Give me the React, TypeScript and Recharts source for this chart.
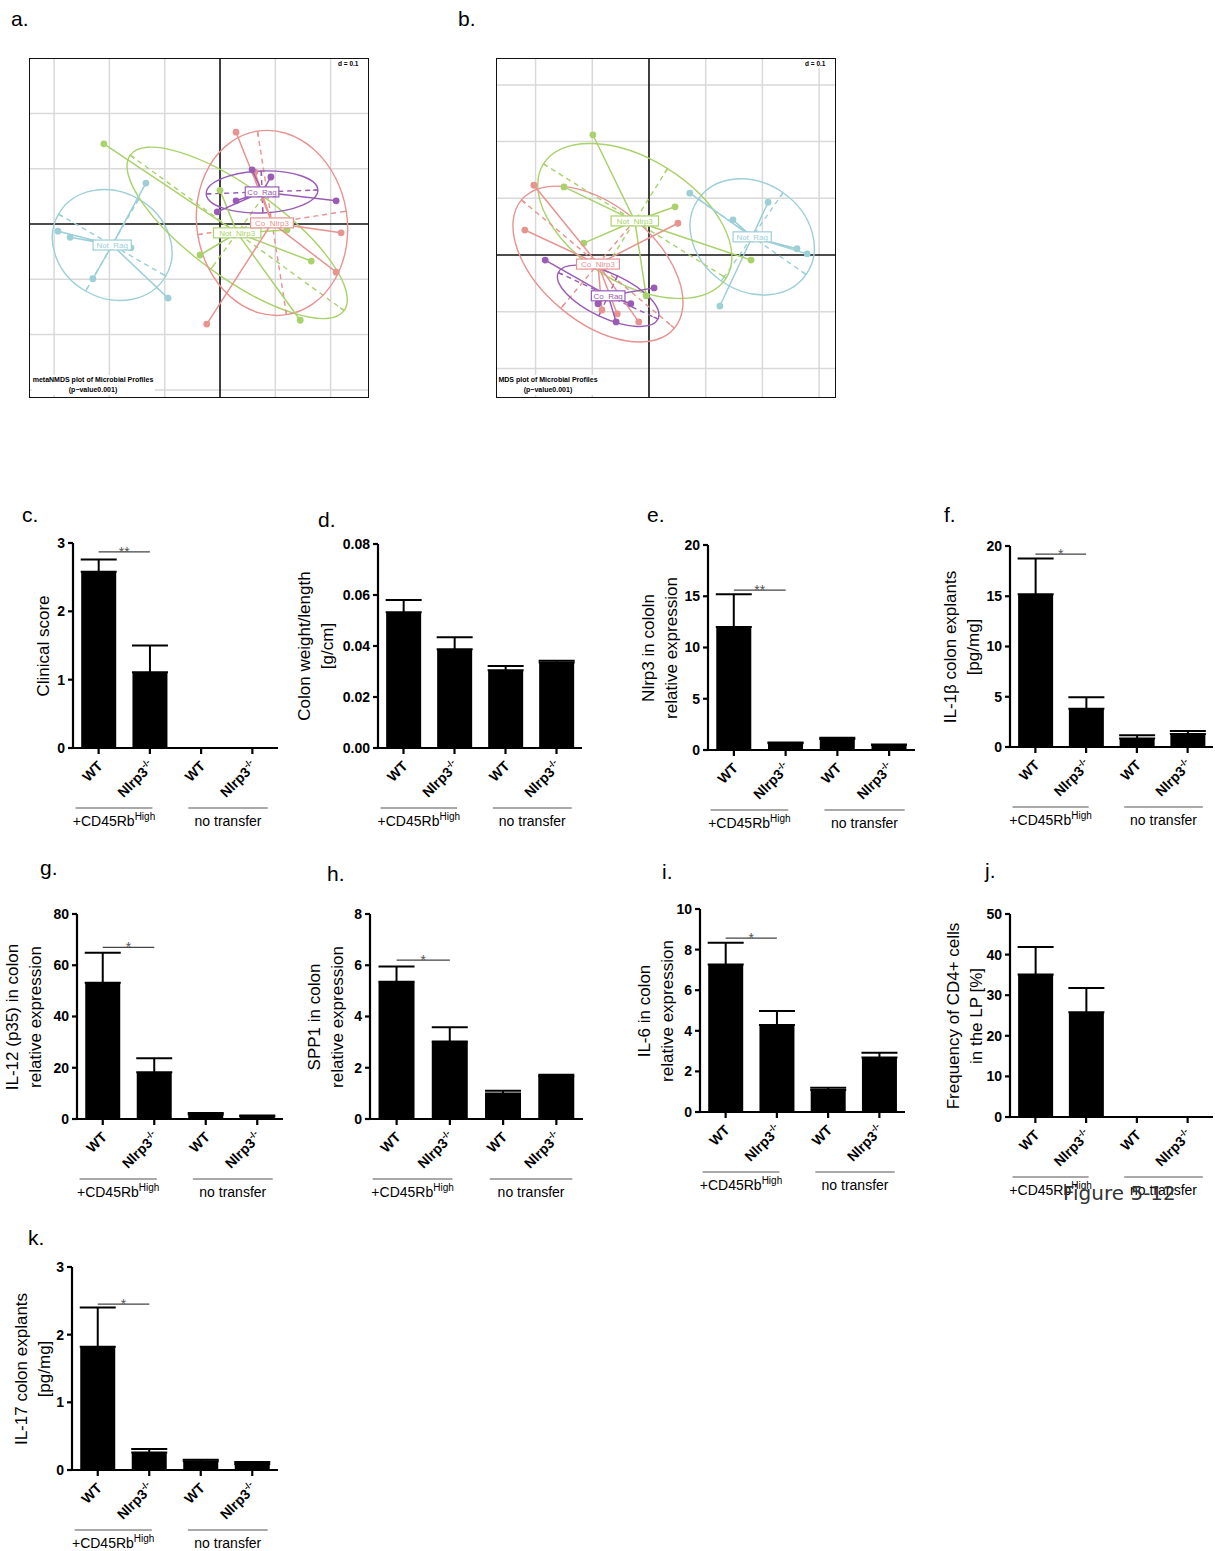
import React from "react";
import {
  BarChart, Bar, XAxis, YAxis, ErrorBar, ReferenceLine, ScatterChart, Scatter,
} from "recharts";

const FONT = '"Liberation Sans", Arial, Helvetica, sans-serif';

// ---------- bar panels: shared categories ----------
const categories = ["WT", "Nlrp3", "WT", "Nlrp3"];
const categoryIds = ["wt_cd45", "ko_cd45", "wt_none", "ko_none"];
const groupLabels = ["+CD45Rb", "no transfer"];

// c. clinical score
const clinicalMean = [2.58, 1.11, 0, 0];
const clinicalErr = [0.18, 0.39, 0, 0];
// d. colon weight/length
const weightMean = [0.0532, 0.0387, 0.0305, 0.0335];
const weightErr = [0.0048, 0.0047, 0.0017, 0.0007];
// e. Nlrp3 expression
const nlrp3Mean = [12.0, 0.65, 1.07, 0.48];
const nlrp3Err = [3.2, 0.08, 0.12, 0.06];
// f. IL-1b explants
const il1bMean = [15.2, 3.8, 0.85, 1.3];
const il1bErr = [3.55, 1.15, 0.33, 0.3];
// g. IL-12 (p35)
const il12Mean = [53.2, 18.2, 1.8, 1.1];
const il12Err = [11.7, 5.5, 0.5, 0.3];
// h. SPP1
const spp1Mean = [5.36, 3.02, 1.0, 1.68];
const spp1Err = [0.59, 0.56, 0.1, 0.05];
// i. IL-6
const il6Mean = [7.27, 4.29, 1.08, 2.68];
const il6Err = [1.07, 0.69, 0.12, 0.24];
// j. CD4+ frequency
const cd4Mean = [35.1, 25.8, 0, 0];
const cd4Err = [6.8, 6.0, 0, 0];
// k. IL-17 explants
const il17Mean = [1.82, 0.26, 0.13, 0.09];
const il17Err = [0.58, 0.05, 0.02, 0.03];

// ---------- ordination panels ----------
type P = [number, number];
// a. metaNMDS
const nmdsNotRag: P[] = [[-0.293, -0.013], [-0.271, -0.024], [-0.134, 0.074], [-0.161, -0.043], [-0.23, -0.099], [-0.094, -0.134]];
const nmdsNotNlrp3: P[] = [[-0.21, 0.145], [0.0, 0.061], [-0.036, -0.056], [0.165, -0.067], [0.145, -0.174], [0.121, -0.011]];
const nmdsCoNlrp3: P[] = [[0.029, 0.166], [-0.024, -0.181], [0.219, -0.016], [0.21, -0.087], [0.063, 0.094]];
const nmdsCoRag: P[] = [[0.058, 0.098], [0.092, 0.085], [0.029, 0.042], [-0.005, 0.022], [0.21, 0.042]];
// center x, center y, semi-axis a, semi-axis b, angle (deg)
const nmdsEllipses: [number, number, number, number, number][] = [
  [-0.195, -0.038, 0.112, 0.096, -30],
  [0.031, -0.016, 0.239, 0.081, -36],
  [0.094, 0.002, 0.168, 0.136, 99],
  [0.076, 0.058, 0.101, 0.038, 2],
];
// b. MDS
const mdsNotNlrp3: P[] = [[-0.099, 0.212], [-0.15, 0.12], [0.046, 0.085], [-0.115, 0.021], [0.18, -0.009], [-0.005, -0.072]];
const mdsNotRag: P[] = [[0.072, 0.109], [0.148, 0.062], [0.21, 0.093], [0.261, 0.011], [0.279, 0.002], [0.125, -0.09]];
const mdsCoNlrp3: P[] = [[-0.203, 0.123], [-0.219, 0.044], [0.051, 0.056], [-0.083, -0.097], [-0.056, -0.104], [-0.018, -0.118]];
const mdsCoRag: P[] = [[-0.183, -0.009], [0.009, -0.058], [-0.09, -0.086], [-0.032, -0.086], [-0.058, -0.118]];
const mdsEllipses: [number, number, number, number, number][] = [
  [0.182, 0.032, 0.116, 0.095, -35],
  [-0.025, 0.06, 0.19, 0.109, -32],
  [-0.09, -0.016, 0.176, 0.102, -40],
  [-0.072, -0.072, 0.097, 0.039, -25],
];
const groupNames = ["Not_Rag", "Not_Nlrp3", "Co_Nlrp3", "Co_Rag"];
const groupColors = ["#9ccfd6", "#a9d26b", "#e79390", "#9a5bb5"];
const gridTicks = [-0.3, -0.2, -0.1, 0.1, 0.2, 0.3];

// ---------- helpers ----------
function Letter({ text, x, base }: { text: string; x: number; base: number }) {
  return (
    <div style={{ position: "absolute", left: x, top: base - 17.5, fontFamily: FONT, fontSize: 21, lineHeight: "21px" }}>{text}</div>
  );
}

function YLabel({ lines, x, y }: { lines: string[]; x: number; y: number }) {
  return (
    <div style={{
      position: "absolute", left: x, top: y, transform: "translate(-50%,-50%) rotate(-90deg)",
      whiteSpace: "nowrap", textAlign: "center", fontFamily: FONT, fontSize: 17, lineHeight: "23px",
    }}>
      {lines.map((l, i) => <div key={i}>{l}</div>)}
    </div>
  );
}

function XTick(props: any) {
  const { x, y, index, band } = props;
  const label = categories[index];
  const axisY = y - 6;
  const first = index % 2 === 0;
  let g = null;
  if (first) {
    const x1 = index === 0 ? x - 0.45 * band : x - 0.25 * band;
    const x2 = index === 0 ? x + 1.05 * band : x + 1.3 * band;
    const mid = (x1 + x2) / 2;
    g = (
      <g>
        <line x1={x1} x2={x2} y1={axisY + 60} y2={axisY + 60} stroke="#555" strokeWidth={1.2} />
        <text x={mid} y={axisY + 78} textAnchor="middle" fontFamily={FONT} fontSize={14} fill="#000">
          {groupLabels[index / 2]}
          {index === 0 && <tspan dy={-6} fontSize={10}>High</tspan>}
        </text>
      </g>
    );
  }
  return (
    <g>
      <text transform={`translate(${x + 5},${axisY + 19}) rotate(-45)`} textAnchor="end" fontFamily={FONT} fontSize={14} fontWeight="bold" fill="#000">
        {label}
        {label !== "WT" && <tspan dy={-6} fontSize={9}>-/-</tspan>}
      </text>
      {g}
    </g>
  );
}

type PanelProps = {
  letter: string; lx: number; lb: number;
  x0: number; yTop: number; yZero: number; xEnd: number;
  yMax: number; ticks: number[]; digits?: number;
  mean: number[]; err: number[];
  label: string[]; labelX: number;
  sigY?: number; sigText?: string;
};

function BarPanel(p: PanelProps) {
  const YW = 60, TOP = 12, XH = 95;
  const plotW = p.xEnd - p.x0;
  const plotH = p.yZero - p.yTop;
  const band = plotW / 4;
  const rows = categoryIds.map((id, i) => ({ id, value: p.mean[i], err: [0, p.err[i]] }));
  const axisStyle = { stroke: "#000", strokeWidth: 2.2 };
  return (
    <>
      <div style={{ position: "absolute", left: p.x0 - YW, top: p.yTop - TOP }}>
        <BarChart width={YW + plotW + 2} height={TOP + plotH + XH} data={rows}
          margin={{ top: TOP, right: 2, bottom: 0, left: 0 }} barCategoryGap="16%">
          <XAxis dataKey="id" height={XH} interval={0} tickSize={6} tickMargin={0}
            axisLine={axisStyle} tickLine={axisStyle}
            tick={(t: any) => <XTick {...t} band={band} />} />
          <YAxis width={YW} domain={[0, p.yMax]} ticks={p.ticks} interval={0} tickSize={5} tickMargin={3}
            axisLine={axisStyle} tickLine={axisStyle} allowDataOverflow
            tickFormatter={(v: number) => (p.digits ? v.toFixed(p.digits) : String(v))}
            tick={{ fill: "#000", fontSize: 14, fontWeight: "bold", fontFamily: FONT }} />
          <Bar dataKey="value" fill="#000" isAnimationActive={false}>
            <ErrorBar dataKey="err" direction="y" width={18} stroke="#000" strokeWidth={2} isAnimationActive={false} />
          </Bar>
          {p.sigY !== undefined && (
            <ReferenceLine
              segment={[{ x: categoryIds[0], y: p.sigY }, { x: categoryIds[1], y: p.sigY }]}
              stroke="#444" strokeWidth={1.3}
              label={{ value: p.sigText, position: "center", fill: "#555", fontSize: 14, fontFamily: FONT }}
            />
          )}
        </BarChart>
      </div>
      <YLabel lines={p.label} x={p.labelX} y={(p.yTop + p.yZero) / 2} />
      <Letter text={p.letter} x={p.lx} base={p.lb} />
    </>
  );
}

// ---------- ordination panel ----------
type OrdProps = {
  left: number; top: number; size: number;
  xDom: [number, number]; yDom: [number, number];
  groups: P[][]; ellipses: [number, number, number, number, number][];
  caption: string[]; capCenter: number;
};

function OrdPanel(o: OrdProps) {
  const k = o.size / (o.xDom[1] - o.xDom[0]);
  return (
    <>
      <div style={{ position: "absolute", left: o.left, top: o.top }}>
        <ScatterChart width={o.size} height={o.size} margin={{ top: 0, right: 0, bottom: 0, left: 0 }}>
          <XAxis type="number" dataKey="x" domain={o.xDom} hide allowDataOverflow />
          <YAxis type="number" dataKey="y" domain={o.yDom} hide allowDataOverflow />
          {gridTicks.map((v) => <ReferenceLine key={"gx" + v} x={v} stroke="#d9d9d9" strokeWidth={1.5} />)}
          {gridTicks.map((v) => <ReferenceLine key={"gy" + v} y={v} stroke="#d9d9d9" strokeWidth={1.5} />)}
          <ReferenceLine x={0} stroke="#111" strokeWidth={1.6} />
          <ReferenceLine y={0} stroke="#111" strokeWidth={1.6} />
          {o.ellipses.map((e, gi) => {
            const color = groupColors[gi];
            return (
              <Scatter key={"el" + gi} data={[{ x: e[0], y: e[1] }]} isAnimationActive={false}
                shape={(s: any) => {
                  const a = e[2] * k, b = e[3] * k;
                  return (
                    <g transform={`translate(${s.cx},${s.cy}) rotate(${-e[4]})`} fill="none" stroke={color} strokeWidth={1.4}>
                      <ellipse rx={a} ry={b} />
                      <line x1={-a} x2={a} y1={0} y2={0} strokeDasharray="5 4" />
                      <line x1={0} x2={0} y1={-b} y2={b} strokeDasharray="5 4" />
                      <line x1={-a} x2={-a + 5} y1={0} y2={0} />
                      <line x1={a - 5} x2={a} y1={0} y2={0} />
                      <line x1={0} x2={0} y1={-b} y2={-b + 5} />
                      <line x1={0} x2={0} y1={b - 5} y2={b} />
                    </g>
                  );
                }} />
            );
          })}
          {o.groups.map((pts, gi) => {
            const c = { x: o.ellipses[gi][0], y: o.ellipses[gi][1], dot: false };
            const star = pts.flatMap((q) => [c, { x: q[0], y: q[1], dot: true }]);
            const color = groupColors[gi];
            return (
              <Scatter key={"sp" + gi} data={star} isAnimationActive={false}
                line={{ stroke: color, strokeWidth: 1.5 }}
                shape={(s: any) => (s.payload.dot ? <circle cx={s.cx} cy={s.cy} r={3.4} fill={color} /> : <g />)} />
            );
          })}
          {o.ellipses.map((e, gi) => {
            const color = groupColors[gi];
            const name = groupNames[gi];
            const w = name.length * 4.6 + 6;
            return (
              <Scatter key={"lb" + gi} data={[{ x: e[0], y: e[1] }]} isAnimationActive={false}
                shape={(s: any) => (
                  <g>
                    <rect x={s.cx - w / 2} y={s.cy - 5} width={w} height={10} fill="#fff" stroke={color} strokeWidth={1.2} />
                    <text x={s.cx} y={s.cy + 3} textAnchor="middle" fontSize={8} fontFamily={FONT} fill={color}>{name}</text>
                  </g>
                )} />
            );
          })}
        </ScatterChart>
      </div>
      <div style={{ position: "absolute", left: o.left, top: o.top, width: o.size, height: o.size, boxSizing: "border-box", border: "1.6px solid #111", pointerEvents: "none" }} />
      <div style={{ position: "absolute", left: o.left + o.size - 32, top: o.top + 2, fontFamily: FONT, fontSize: 6.5, fontWeight: "bold", background: "#fff", padding: "0 1px", lineHeight: "8px" }}>d = 0.1</div>
      <div style={{
        position: "absolute", left: o.capCenter, top: o.top + 317, transform: "translateX(-50%)",
        fontFamily: FONT, fontSize: 7, fontWeight: "bold", lineHeight: "10px", textAlign: "center",
        background: "#fff", whiteSpace: "nowrap", padding: "0 1px",
      }}>
        {o.caption.map((c, i) => <div key={i}>{c}</div>)}
      </div>
    </>
  );
}

export default function App() {
  return (
    <div style={{ position: "absolute", left: 0, top: 0, width: 1215, height: 1551, background: "#fff", overflow: "hidden" }}>
      <Letter text="a." x={11} base={25} />
      <Letter text="b." x={458} base={25} />
      <OrdPanel left={29} top={58} size={340} xDom={[-0.3454, 0.2694]} yDom={[-0.3146, 0.3002]}
        groups={[nmdsNotRag, nmdsNotNlrp3, nmdsCoNlrp3, nmdsCoRag]} ellipses={nmdsEllipses}
        caption={["metaNMDS plot of Microbial Profiles", "(p\u2212value0.001)"]} capCenter={93} />
      <OrdPanel left={496} top={58} size={340} xDom={[-0.2698, 0.3298]} yDom={[-0.2522, 0.3474]}
        groups={[mdsNotRag, mdsNotNlrp3, mdsCoNlrp3, mdsCoRag]} ellipses={mdsEllipses}
        caption={["MDS plot of Microbial Profiles", "(p\u2212value0.001)"]} capCenter={548} />

      <BarPanel letter="c." lx={22} lb={521} x0={73} yTop={543} yZero={748} xEnd={278}
        yMax={3} ticks={[0, 1, 2, 3]} mean={clinicalMean} err={clinicalErr}
        label={["Clinical score"]} labelX={43} sigY={2.87} sigText="**" />
      <BarPanel letter="d." lx={318} lb={526} x0={378} yTop={544} yZero={748} xEnd={582}
        yMax={0.08} ticks={[0, 0.02, 0.04, 0.06, 0.08]} digits={2} mean={weightMean} err={weightErr}
        label={["Colon weight/length", "[g/cm]"]} labelX={316} />
      <BarPanel letter="e." lx={647} lb={521} x0={708} yTop={545} yZero={750} xEnd={915}
        yMax={20} ticks={[0, 5, 10, 15, 20]} mean={nlrp3Mean} err={nlrp3Err}
        label={["Nlrp3 in cololn", "relative expression"]} labelX={660} sigY={15.6} sigText="**" />
      <BarPanel letter="f." lx={944} lb={521} x0={1010} yTop={546} yZero={747} xEnd={1213}
        yMax={20} ticks={[0, 5, 10, 15, 20]} mean={il1bMean} err={il1bErr}
        label={["IL-1\u03b2 colon explants", "[pg/mg]"]} labelX={962} sigY={19.2} sigText="*" />

      <BarPanel letter="g." lx={40} lb={874} x0={77} yTop={914} yZero={1119} xEnd={283}
        yMax={80} ticks={[0, 20, 40, 60, 80]} mean={il12Mean} err={il12Err}
        label={["IL-12 (p35) in colon", "relative expression"]} labelX={24} sigY={67} sigText="*" />
      <BarPanel letter="h." lx={327} lb={880} x0={370} yTop={914} yZero={1119} xEnd={583}
        yMax={8} ticks={[0, 2, 4, 6, 8]} mean={spp1Mean} err={spp1Err}
        label={["SPP1 in colon", "relative expression"]} labelX={326} sigY={6.2} sigText="*" />
      <BarPanel letter="i." lx={662} lb={878} x0={700} yTop={909} yZero={1112} xEnd={905}
        yMax={10} ticks={[0, 2, 4, 6, 8, 10]} mean={il6Mean} err={il6Err}
        label={["IL-6 in colon", "relative expression"]} labelX={656} sigY={8.57} sigText="*" />
      <BarPanel letter="j." lx={985} lb={877} x0={1010} yTop={914} yZero={1117} xEnd={1213}
        yMax={50} ticks={[0, 10, 20, 30, 40, 50]} mean={cd4Mean} err={cd4Err}
        label={["Frequency of CD4+ cells", "in the LP [%]"]} labelX={965} />

      <BarPanel letter="k." lx={28} lb={1244} x0={72} yTop={1267} yZero={1470} xEnd={278}
        yMax={3} ticks={[0, 1, 2, 3]} mean={il17Mean} err={il17Err}
        label={["IL-17 colon explants", "[pg/mg]"]} labelX={33} sigY={2.45} sigText="*" />

      <div style={{ position: "absolute", left: 1063, top: 1183, fontFamily: '"DejaVu Sans", sans-serif', fontSize: 20, lineHeight: "20px", color: "#333" }}>
        Figure 5-12
      </div>
    </div>
  );
}
